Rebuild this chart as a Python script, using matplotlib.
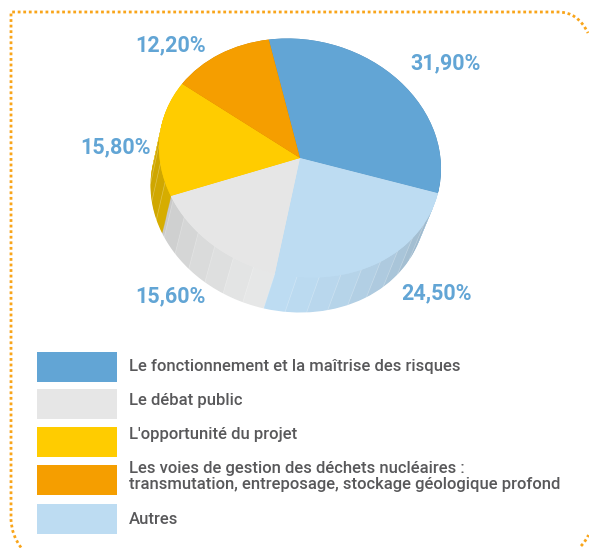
import matplotlib
matplotlib.use("Agg")
import matplotlib.pyplot as plt
import numpy as np
from matplotlib.patches import Polygon, Rectangle, PathPatch
from matplotlib.path import Path
from matplotlib.transforms import Affine2D

# slices, clockwise from the top
pie_values = [31.9, 24.5, 15.6, 15.8, 12.2]
pie_labels = ["31,90%", "24,50%", "15,60%", "15,80%", "12,20%"]
pie_colors = ["#62a5d5", "#bddcf2", "#e6e6e6", "#ffcc00", "#f59e00"]
side_colors = ["#5289b3", "#bddcf2", "#e8e9e9", "#f8c800", "#c98200"]

legend_labels = [
    "Le fonctionnement et la maîtrise des risques",
    "Le débat public",
    "L'opportunité du projet",
    "Les voies de gestion des déchets nucléaires :\ntransmutation, entreposage, stockage géologique profond",
    "Autres",
]
legend_colors = ["#62a5d5", "#e6e6e6", "#ffcc00", "#f59e00", "#bddcf2"]

label_pos = [(445.5, 63), (436.5, 293), (170.5, 296), (115.5, 147), (170.5, 45)]
legend_y = [352, 389, 427, 465, 504]
legend_text_y = [367, 400.5, 434, 476.5, 520]

START = 103
DEPTH = 38
SHIFT = -12
LOW_SCALE = 0.975

fig = plt.figure(figsize=(5.89, 5.48), dpi=100)
ax = fig.add_axes([0, 0, 1, 1])
ax.set_xlim(0, 589)
ax.set_ylim(548, 0)
ax.axis("off")


def disc(t=0.0):
    # unit circle -> tilted ellipse, t goes down the side of the pie
    scale = 1 - (1 - LOW_SCALE) * t
    return Affine2D.from_values(141 * scale, 11 * scale, 0.5 * scale, -119 * scale,
                                300 + SHIFT * t, 158 + DEPTH * t)


def ell(theta, t=0.0):
    return disc(t).transform(np.column_stack([np.cos(theta), np.sin(theta)]))


def draw_pie(colors, t=0.0, z=1):
    wedges, _ = ax.pie(pie_values, colors=colors, startangle=START, counterclock=False,
                       wedgeprops={"linewidth": 0, "zorder": z}, normalize=True)
    for w in wedges:
        w.set_transform(disc(t) + ax.transData)


# side of the pie, stacked from the bottom up
for t in np.linspace(1, 0, 40):
    draw_pie(side_colors, t)

# facets on the side
edges = np.radians(np.arange(-190, -10, 9.0))
for a0, a1 in zip(edges[:-1], edges[1:]):
    mid = np.degrees((a0 + a1) / 2)
    shade = 0.17 * min(abs(mid + 95) / 75, 1.0) ** 1.5
    th = np.linspace(a0, a1, 6)
    pts = np.vstack([ell(th, 0), ell(th[::-1], 1)])
    ax.add_patch(Polygon(pts, closed=True, fc="black", ec="none", alpha=shade, zorder=5))
    ax.plot(*np.vstack([ell(np.array([a0]), 0), ell(np.array([a0]), 1)]).T,
            color="white", lw=0.5, alpha=0.3, zorder=6)

# top face
draw_pie(pie_colors, 0, z=10)
ax.set_xlim(0, 589)
ax.set_ylim(548, 0)
ax.set_aspect("auto")

for lab, (x, y) in zip(pie_labels, label_pos):
    ax.text(x, y, lab, color="#62a5d5", fontsize=15.5, fontweight="bold", family="Roboto",
            ha="center", va="center", zorder=20)

for y, c in zip(legend_y, legend_colors):
    ax.add_patch(Rectangle((37, y), 80, 30, fc=c, ec="none"))
for lab, y in zip(legend_labels, legend_text_y):
    ax.text(129, y, lab, color="#58585a", fontsize=12, fontweight="medium", family="Roboto",
            ha="left", va="center", linespacing=1.15)

# dotted frame, it leaves the picture at the bottom and on the right
frame = Path(
    [(21, 547.5), (12, 536), (11, 520), (11, 12), (558, 12), (578, 12), (588, 33)],
    [Path.MOVETO, Path.CURVE3, Path.CURVE3, Path.LINETO, Path.LINETO, Path.CURVE3, Path.CURVE3])
corner = Path([(581, 546), (586, 541), (588.5, 535)], [Path.MOVETO, Path.CURVE3, Path.CURVE3])
for p in [frame, corner]:
    ax.add_patch(PathPatch(p, fc="none", ec="#f9a51a", lw=2, ls=(0, (1, 1)), zorder=3))

fig.savefig("out.png", dpi=100)
